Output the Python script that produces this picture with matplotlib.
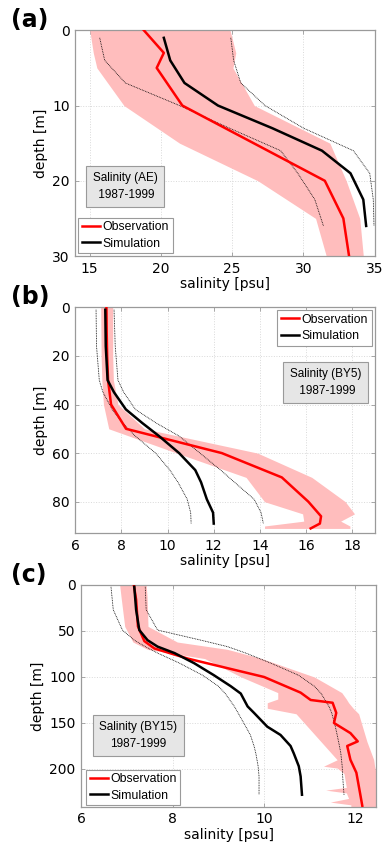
import matplotlib
matplotlib.use("Agg")
import matplotlib.pyplot as plt

# ---------------- (a) Salinity, station AE ----------------
a_obs_depth = [0, 3, 5, 10, 20, 25, 30]
a_obs_sal = [18.8, 20.2, 19.7, 21.5, 31.5, 32.8, 33.2]
a_band_depth = [0, 3, 5, 10, 15, 20, 25, 30]
a_band_low = [15.0, 15.25, 15.5, 17.4, 21.3, 26.8, 30.85, 31.6]
a_band_high = [24.85, 25.25, 25.05, 26.55, 31.85, 33.0, 33.95, 34.2]
a_sim_depth = [1, 4, 7, 10, 13, 16, 19, 22.5, 26]
a_sim_sal = [20.2, 20.65, 21.65, 24.0, 27.8, 31.3, 33.3, 34.2, 34.4]
a_sim_low = [15.7, 16.05, 17.5, 21.3, 24.8, 28.4, 29.6, 30.8, 31.4]
a_sim_high = [24.9, 25.1, 25.6, 27.3, 30.0, 33.5, 34.65, 34.9, 34.95]

# ---------------- (b) Salinity, station BY5 ----------------
b_obs_depth = [0, 10, 20, 30, 40, 50, 60, 70, 80, 86, 89, 91]
b_obs_sal = [7.35, 7.36, 7.38, 7.42, 7.55, 8.2, 12.35, 14.95, 16.1, 16.65, 16.6, 16.2]
b_band_depth = [0, 20, 30, 40, 50, 60, 70, 80, 85, 88, 90, 91]
b_band_low = [7.1, 7.12, 7.15, 7.22, 7.45, 10.4, 13.4, 14.2, 15.85, 15.9, 14.2, 14.2]
b_band_high = [7.62, 7.62, 7.65, 7.85, 9.0, 13.9, 16.25, 17.7, 18.1, 17.5, 17.9, 17.9]
b_sim_depth = [1, 16, 30, 35, 42, 47.6, 53, 60, 67, 72, 79, 84.5, 89]
b_sim_sal = [7.3, 7.32, 7.4, 7.68, 8.19, 8.9, 9.63, 10.5, 11.2, 11.45, 11.7, 11.97, 12.0]
b_sim_low = [6.9, 6.92, 7.04, 7.2, 7.6, 8.05, 8.6, 9.48, 10.1, 10.45, 10.85, 11.0, 11.02]
b_sim_high = [7.68, 7.73, 7.85, 8.1, 8.6, 9.5, 10.5, 11.4, 12.3, 12.9, 13.75, 14.05, 14.15]

# ---------------- (c) Salinity, station BY15 ----------------
c_obs_depth = [0, 16, 45, 61, 69, 80, 100, 117, 125, 128, 139, 150, 161, 170, 175,
               190, 204, 226, 240]
c_obs_sal = [7.15, 7.2, 7.24, 7.38, 7.6, 8.33, 10.0, 10.8, 11.02, 11.5, 11.58, 11.53,
             11.89, 12.05, 11.82, 11.89, 12.02, 12.1, 12.15]
c_band_depth = [0, 13, 45, 62, 70, 80, 100, 117, 124, 128, 134, 140, 170, 190, 197, 199,
                205, 220, 223, 226, 232, 236, 239, 242]
c_band_low = [6.84, 6.87, 6.95, 7.13, 7.45, 8.7, 9.5, 10.3, 10.3, 10.07, 10.07, 10.7,
              11.24, 11.6, 11.3, 11.6, 11.75, 11.8, 11.35, 11.8, 11.85, 11.45, 11.9, 11.9]
c_band_high = [7.42, 7.44, 7.46, 8.1, 9.2, 9.95, 11.1, 11.7, 11.8, 11.85, 11.95, 12.07,
               12.25, 12.4, 12.42, 12.43, 12.45, 12.5, 12.5, 12.5, 12.5, 12.5, 12.5, 12.5]
c_sim_depth = [2, 27, 49, 60, 67, 74, 85, 98, 110, 118, 132, 139, 154, 163, 175, 183,
               197, 208, 228]
c_sim_sal = [7.16, 7.2, 7.27, 7.45, 7.67, 8.04, 8.47, 8.9, 9.27, 9.49, 9.64, 9.78,
             10.07, 10.36, 10.58, 10.65, 10.76, 10.8, 10.83]
c_sim_low = [6.65, 6.7, 6.9, 7.16, 7.4, 7.67, 8.15, 8.65, 9.0, 9.15, 9.35, 9.43, 9.6,
             9.7, 9.78, 9.82, 9.87, 9.89, 9.89]
c_sim_high = [7.4, 7.42, 7.67, 8.62, 9.2, 9.6, 10.15, 10.75, 11.1, 11.25, 11.42, 11.48,
              11.56, 11.6, 11.65, 11.68, 11.71, 11.72, 11.75]

PINK = "#ffbdbd"
FRAME = "#9a9a9a"
BOXFILL = "#e6e6e6"
TXTFONT = ["Liberation Sans", "DejaVu Sans"]

fig = plt.figure(figsize=(3.82, 8.56), dpi=100)


def panel(rect, tag, obs_d, obs_s, band_d, band_lo, band_hi, sim_d, sim_s, sim_lo, sim_hi,
          xlim, xticks, ylim, yticks, leg_loc, leg_anchor, box_xy, box_label):
    ax = fig.add_axes(rect)
    ax.fill_betweenx(band_d, band_lo, band_hi, color=PINK, lw=0, zorder=1)
    ax.plot(sim_lo, sim_d, color="black", ls=(0, (1, 1)), lw=0.6, zorder=2)
    ax.plot(sim_hi, sim_d, color="black", ls=(0, (1, 1)), lw=0.6, zorder=2)
    ax.plot(obs_s, obs_d, color="red", lw=1.8, label="Observation", zorder=3)
    ax.plot(sim_s, sim_d, color="black", lw=1.8, label="Simulation", zorder=3)
    ax.set_xlim(*xlim)
    ax.set_ylim(*ylim)
    ax.set_xticks(xticks)
    ax.set_yticks(yticks)
    ax.grid(True, color="#d9d9d9", ls=":", lw=0.7)
    ax.set_axisbelow(True)
    for s in ax.spines.values():
        s.set_color(FRAME)
        s.set_linewidth(0.9)
    ax.tick_params(direction="in", length=3, width=0.6, color=FRAME, labelsize=10,
                   top=True, right=True, pad=4)
    ax.set_xlabel("salinity [psu]", fontsize=10, labelpad=1)
    ax.set_ylabel("depth [m]", fontsize=10, labelpad=3)
    leg = ax.legend(loc=leg_loc, bbox_to_anchor=leg_anchor, borderaxespad=0,
                    fancybox=False, framealpha=1, edgecolor=FRAME,
                    prop={"family": TXTFONT, "size": 8.8}, handlelength=1.5,
                    handletextpad=0.2, borderpad=0.3, labelspacing=0.35)
    leg.get_frame().set_linewidth(0.8)
    leg.set_zorder(5)
    ax.text(box_xy[0], box_xy[1], box_label, transform=ax.transAxes, ha="center",
            va="center", multialignment="center", family=TXTFONT, fontsize=8.5,
            linespacing=1.5, zorder=6,
            bbox=dict(boxstyle="square,pad=0.55", facecolor=BOXFILL, edgecolor=FRAME,
                      linewidth=0.8))
    fig.text(0.03, rect[1] + rect[3] + 0.012, tag, fontsize=17, fontweight="bold",
             ha="left", va="center")
    return ax


panel([0.1976, 0.7009, 0.7833, 0.2637], "(a)",
      a_obs_depth, a_obs_sal, a_band_depth, a_band_low, a_band_high,
      a_sim_depth, a_sim_sal, a_sim_low, a_sim_high,
      (14, 35), [15, 20, 25, 30, 35], (30, 0), [0, 10, 20, 30],
      "lower left", (0.009, 0.012), (0.166, 0.309), "Salinity (AE)\n 1987-1999")

panel([0.1971, 0.3770, 0.7853, 0.2640], "(b)",
      b_obs_depth, b_obs_sal, b_band_depth, b_band_low, b_band_high,
      b_sim_depth, b_sim_sal, b_sim_low, b_sim_high,
      (6, 19), [6, 8, 10, 12, 14, 16, 18], (93, 0), [0, 20, 40, 60, 80],
      "upper right", (0.988, 0.988), (0.834, 0.668), "Salinity (BY5)\n 1987-1999")

panel([0.2128, 0.0576, 0.7715, 0.2590], "(c)",
      c_obs_depth, c_obs_sal, c_band_depth, c_band_low, c_band_high,
      c_sim_depth, c_sim_sal, c_sim_low, c_sim_high,
      (6, 12.45), [6, 8, 10, 12], (241, 0), [0, 50, 100, 150, 200],
      "lower left", (0.016, 0.006), (0.194, 0.321), "Salinity (BY15)\n1987-1999")

fig.savefig("out.png", dpi=100)
